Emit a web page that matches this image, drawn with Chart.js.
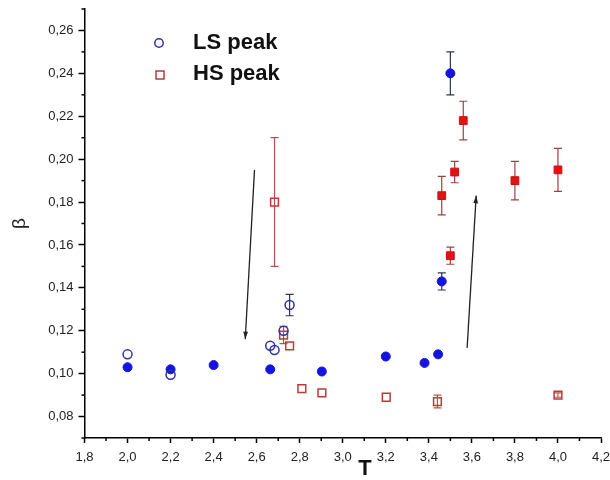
<!DOCTYPE html>
<html>
<head>
<meta charset="utf-8">
<script src="https://cdn.jsdelivr.net/npm/chart.js@4.4.0/dist/chart.umd.min.js"></script>
<style>
    body { margin: 0; background: #fff; }
    #wrap { width: 610px; height: 480px; }
</style>
</head>
<body>
<div id="wrap"><canvas id="grafico" width="610" height="480"></canvas></div>
<script>
// Dados (T, beta, erro)
const lsAbertoT = [2.0, 2.2, 2.663, 2.683, 2.725, 2.753];
const lsAbertoBeta = [0.109, 0.0995, 0.113, 0.111, 0.120, 0.132];
const lsAbertoErro = [0, 0, 0, 0, 0, 0.005];

const lsCheioT = [2.0, 2.2, 2.4, 2.663, 2.903, 3.2, 3.38, 3.443, 3.46, 3.50];
const lsCheioBeta = [0.103, 0.102, 0.104, 0.102, 0.101, 0.108, 0.105, 0.109, 0.143, 0.240];
const lsCheioErro = [0, 0, 0, 0, 0, 0, 0, 0, 0.004, 0.010];

const hsAbertoT = [2.683, 2.725, 2.753, 2.81, 2.903, 3.202, 3.44, 4.0];
const hsAbertoBeta = [0.180, 0.118, 0.113, 0.093, 0.091, 0.089, 0.087, 0.090];
const hsAbertoErro = [0.030, 0.004, 0, 0, 0, 0, 0.003, 0.001];

const hsCheioT = [3.46, 3.50, 3.52, 3.56, 3.80, 4.00];
const hsCheioBeta = [0.183, 0.155, 0.194, 0.218, 0.190, 0.195];
const hsCheioErro = [0.009, 0.004, 0.005, 0.009, 0.009, 0.010];

// Marcas dos eixos
const ticksX = [1.8, 2.0, 2.2, 2.4, 2.6, 2.8, 3.0, 3.2, 3.4, 3.6, 3.8, 4.0, 4.2];
const ticksY = [0.08, 0.10, 0.12, 0.14, 0.16, 0.18, 0.20, 0.22, 0.24, 0.26];

// Setas (inicio -> fim, em unidades dos dados)
const setas = [
    { de: [2.590, 0.195], para: [2.547, 0.116] },
    { de: [3.578, 0.112], para: [3.620, 0.183] }
];

function pontos(xs, ys, es) {
    return xs.map((x, i) => ({ x: x, y: ys[i], e: es[i] }));
}

// Plugin: barras de erro
const barrasErro = {
    id: 'barrasErro',
    beforeDatasetsDraw(chart) {
        const ctx = chart.ctx;
        const sy = chart.scales.y;
        chart.data.datasets.forEach((ds, i) => {
            const meta = chart.getDatasetMeta(i);
            ctx.save();
            ctx.strokeStyle = ds.corErro;
            ctx.lineWidth = 1.2;
            ds.data.forEach((p, j) => {
                if (!p.e) return;
                const px = meta.data[j].x;
                const y1 = sy.getPixelForValue(p.y + p.e);
                const y2 = sy.getPixelForValue(p.y - p.e);
                ctx.beginPath();
                ctx.moveTo(px, y1); ctx.lineTo(px, y2);
                ctx.moveTo(px - 4, y1); ctx.lineTo(px + 4, y1);
                ctx.moveTo(px - 4, y2); ctx.lineTo(px + 4, y2);
                ctx.stroke();
            });
            ctx.restore();
        });
    }
};

// Plugin: setas, marcas menores, legenda e título do eixo x
const extras = {
    id: 'extras',
    afterDraw(chart) {
        const ctx = chart.ctx;
        const sx = chart.scales.x;
        const sy = chart.scales.y;
        const area = chart.chartArea;
        ctx.save();

        // marcas menores
        ctx.strokeStyle = '#000';
        ctx.lineWidth = 1.5;
        for (let i = 0; i < ticksX.length - 1; i++) {
            const px = sx.getPixelForValue((ticksX[i] + ticksX[i + 1]) / 2);
            ctx.beginPath();
            ctx.moveTo(px, area.bottom); ctx.lineTo(px, area.bottom + 3);
            ctx.stroke();
        }
        const menoresY = [0.07].concat(ticksY.map(v => v + 0.01));
        menoresY.forEach(v => {
            const py = sy.getPixelForValue(v);
            ctx.beginPath();
            ctx.moveTo(area.left, py); ctx.lineTo(area.left - 3, py);
            ctx.stroke();
        });

        // setas
        ctx.strokeStyle = '#222';
        ctx.fillStyle = '#222';
        ctx.lineWidth = 1.3;
        setas.forEach(s => {
            const x1 = sx.getPixelForValue(s.de[0]), y1 = sy.getPixelForValue(s.de[1]);
            const x2 = sx.getPixelForValue(s.para[0]), y2 = sy.getPixelForValue(s.para[1]);
            const ang = Math.atan2(y2 - y1, x2 - x1);
            ctx.beginPath();
            ctx.moveTo(x1, y1); ctx.lineTo(x2, y2);
            ctx.stroke();
            ctx.beginPath();
            ctx.moveTo(x2, y2);
            ctx.lineTo(x2 - 8 * Math.cos(ang - 0.3), y2 - 8 * Math.sin(ang - 0.3));
            ctx.lineTo(x2 - 8 * Math.cos(ang + 0.3), y2 - 8 * Math.sin(ang + 0.3));
            ctx.closePath();
            ctx.fill();
        });

        // legenda
        ctx.lineWidth = 1.5;
        ctx.strokeStyle = '#3030a0';
        ctx.beginPath();
        ctx.arc(159, 43, 4.2, 0, Math.PI * 2);
        ctx.stroke();
        ctx.strokeStyle = '#c03838';
        ctx.strokeRect(156, 71, 8, 8);
        ctx.fillStyle = '#111';
        ctx.font = 'bold 22px "Liberation Sans", Arial, sans-serif';
        ctx.textBaseline = 'middle';
        ctx.textAlign = 'left';
        ctx.fillText('LS peak', 193, 43);
        ctx.fillText('HS peak', 193, 74);

        // título do eixo x
        ctx.font = 'bold 22px "Liberation Sans", Arial, sans-serif';
        ctx.textAlign = 'center';
        ctx.fillText('T', 365, 469);
        ctx.restore();
    }
};

const fonteTick = { family: '"Liberation Sans", Arial, sans-serif', size: 13 };

new Chart(document.getElementById('grafico').getContext('2d'), {
    type: 'scatter',
    data: {
        datasets: [
            {
                label: 'LS peak',
                data: pontos(lsAbertoT, lsAbertoBeta, lsAbertoErro),
                pointStyle: 'circle', pointRadius: 4.5, borderWidth: 1.5,
                borderColor: '#3030a0', backgroundColor: 'rgba(255,255,255,0)',
                corErro: '#333355'
            },
            {
                label: 'LS peak cheio',
                data: pontos(lsCheioT, lsCheioBeta, lsCheioErro),
                pointStyle: 'circle', pointRadius: 4.5, borderWidth: 1,
                borderColor: '#1414d8', backgroundColor: '#1414e0',
                corErro: '#333355'
            },
            {
                label: 'HS peak',
                data: pontos(hsAbertoT, hsAbertoBeta, hsAbertoErro),
                pointStyle: 'rect', pointRadius: 5.5, borderWidth: 1.5,
                borderColor: '#c03838', backgroundColor: 'rgba(255,255,255,0)',
                corErro: '#b85050'
            },
            {
                label: 'HS peak cheio',
                data: pontos(hsCheioT, hsCheioBeta, hsCheioErro),
                pointStyle: 'rect', pointRadius: 5.5, borderWidth: 1,
                borderColor: '#d01010', backgroundColor: '#e01414',
                corErro: '#a04040'
            }
        ]
    },
    options: {
        responsive: false,
        animation: false,
        devicePixelRatio: 1,
        layout: { padding: { top: 9, right: 9, left: 0, bottom: 0 } },
        plugins: {
            legend: { display: false },
            tooltip: { enabled: false }
        },
        scales: {
            x: {
                type: 'linear',
                min: 1.8, max: 4.2,
                afterBuildTicks: s => { s.ticks = ticksX.map(v => ({ value: v })); },
                afterFit: s => { s.height = 42; s.paddingLeft = 0; s.paddingRight = 0; },
                ticks: {
                    color: '#222', font: fonteTick, padding: 7, maxRotation: 0,
                    callback: v => v.toFixed(1).replace('.', ',')
                },
                grid: { drawOnChartArea: false, drawTicks: true, tickLength: 5, color: '#000', tickWidth: 1.5 },
                border: { color: '#000', width: 1.5 }
            },
            y: {
                type: 'linear',
                min: 0.07, max: 0.27,
                afterBuildTicks: s => { s.ticks = ticksY.map(v => ({ value: v })); },
                afterFit: s => { s.width = 84.5; s.paddingTop = 0; s.paddingBottom = 0; },
                ticks: {
                    color: '#222', font: fonteTick, padding: 5,
                    callback: v => v.toFixed(2).replace('.', ',')
                },
                title: {
                    display: true, text: 'β', color: '#222',
                    font: { family: '"Liberation Sans", Arial, sans-serif', size: 19 },
                    padding: { top: 8, bottom: 0 }
                },
                grid: { drawOnChartArea: false, drawTicks: true, tickLength: 6, color: '#000', tickWidth: 1.5 },
                border: { color: '#000', width: 1.5 }
            }
        }
    },
    plugins: [barrasErro, extras]
});
</script>
</body>
</html>
